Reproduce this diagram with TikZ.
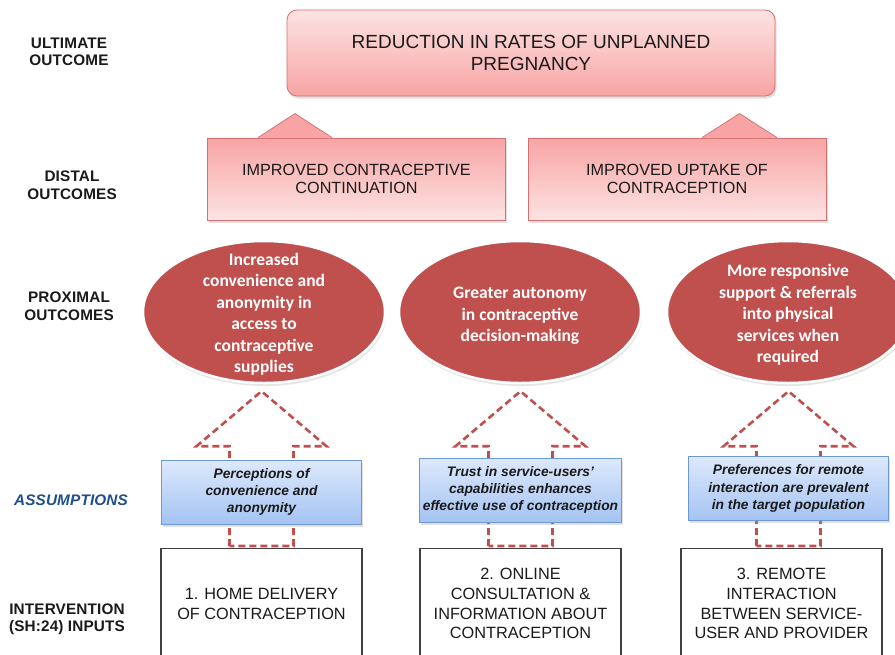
\documentclass[tikz,border=0pt]{standalone}
\usepackage{fontspec}
\setmainfont{Liberation Sans}
\newfontfamily\calfont{Carlito}
\newfontfamily\lblfont[LetterSpace=1]{Liberation Sans}
\usetikzlibrary{shapes,arrows,backgrounds,shadows,calc}
\definecolor{boxred}{HTML}{C0504D}
\definecolor{pinkdark}{HTML}{F8A4A4}
\definecolor{pinklight}{HTML}{FDE3E3}
\definecolor{pinkline}{HTML}{D56F70}
\definecolor{bluelight}{HTML}{DDE9FC}
\definecolor{bluedark}{HTML}{A4C3F2}
\definecolor{blueline}{HTML}{6D98D2}
\definecolor{navy}{HTML}{1F4E8C}
\definecolor{inkgrey}{HTML}{1A1A1A}
\tikzset{softshadow/.style={drop shadow={shadow xshift=1.5pt,shadow yshift=-2.5pt,opacity=0.3,fill=black!40}}}

\begin{document}
\begin{tikzpicture}[x=1pt,y=-1pt,
  lbl/.style={align=center,text=inkgrey,font=\lblfont\bfseries\fontsize{15.3}{17.5}\selectfont},
  ultbox/.style={draw=pinkline,line width=0.8pt,rounded corners=10pt,top color=pinklight,bottom color=pinkdark,softshadow,
    minimum width=488pt,minimum height=86pt,align=center,text=inkgrey,font=\fontsize{19}{22}\selectfont},
  distbox/.style={draw=pinkline,line width=0.8pt,top color=pinkdark,bottom color=pinklight,softshadow,
    minimum width=298pt,minimum height=82pt,align=center,text=inkgrey,font=\fontsize{16.2}{18.5}\selectfont},
  prox/.style={ellipse,fill=boxred,draw=white,line width=2.5pt,minimum width=242pt,minimum height=142pt,
    drop shadow={shadow xshift=1pt,shadow yshift=-3pt,opacity=0.25,fill=black!40}},
  proxtxt/.style={align=center,text=white,inner sep=0pt,font=\calfont\bfseries\fontsize{17.5}{21.5}\selectfont},
  assum/.style={draw=blueline,line width=0.8pt,top color=bluelight,bottom color=bluedark,softshadow,
    minimum width=200pt,minimum height=64pt,align=center,text=inkgrey,font=\bfseries\itshape\fontsize{13.8}{17.3}\selectfont},
  inbox/.style={draw=black!75,line width=1.3pt,fill=white,minimum width=201pt,minimum height=110pt,anchor=north,
    align=center,text=inkgrey,font=\fontsize{16.3}{19.7}\selectfont},
  blockarr/.style={draw=boxred,line width=2.6pt,dash pattern=on 7pt off 4pt,line join=miter}]
\useasboundingbox (0,0) rectangle (895,654);
\clip (0,0) rectangle (895,654);

% row labels
\node[lbl] (lult) at (69,52) {ULTIMATE\\OUTCOME};
\node[lbl] (ldist) at (72,185) {DISTAL\\OUTCOMES};
\node[lbl] (lprox) at (69,306) {PROXIMAL\\OUTCOMES};
\node[lbl,text=navy,font=\lblfont\bfseries\itshape\fontsize{15.3}{17.5}\selectfont] (lassum) at (71,500) {ASSUMPTIONS};
\node[lbl] (linput) at (67,619) {INTERVENTION\\(SH:24) INPUTS};

% outcomes
\node[ultbox] (ult) at (531,53) {REDUCTION IN RATES OF UNPLANNED\\PREGNANCY};
\node[distbox] (d1) at (356.5,179) {IMPROVED CONTRACEPTIVE\\CONTINUATION};
\node[distbox] (d2) at (677,179) {IMPROVED UPTAKE OF\\CONTRACEPTION};
\fill[pinkdark] ([xshift=-98.5pt,yshift=-0.6pt]d1.north) -- ++(37,-24.6) -- ++(37,24.6) -- cycle;
\draw[pinkline,line width=0.8pt] ([xshift=-98.5pt]d1.north) -- ++(37,-24) -- ++(37,24);
\fill[pinkdark] ([xshift=25pt,yshift=-0.6pt]d2.north) -- ++(37.5,-24.6) -- ++(37.5,24.6) -- cycle;
\draw[pinkline,line width=0.8pt] ([xshift=25pt]d2.north) -- ++(37.5,-24) -- ++(37.5,24);

\node[prox] (p1) at (264,312) {};
\node[prox] (p2) at (520,312) {};
\node[prox] (p3) at (788,312) {};
\node[proxtxt] (p1t) at ([yshift=-2pt]p1.center) {Increased\\convenience and\\anonymity in\\access to\\contraceptive\\supplies};
\node[proxtxt] (p2t) at ([yshift=-4pt]p2.center) {Greater autonomy\\in contraceptive\\decision-making};
\node[proxtxt] (p3t) at ([yshift=-3pt]p3.center) {More responsive\\support \& referrals\\into physical\\services when\\required};

% assumptions and inputs
\node[assum] (a1) at (261.5,492) {Perceptions of\\convenience and\\anonymity};
\node[assum] (a2) at (520.5,490) {Trust in service-users'\\capabilities enhances\\effective use of contraception};
\node[assum] (a3) at (788.5,488.5) {Preferences for remote\\interaction are prevalent\\in the target population};

\node[inbox] (i1) at (261.5,548) {1. HOME DELIVERY\\OF CONTRACEPTION};
\node[inbox] (i2) at (520.5,548) {2. ONLINE\\CONSULTATION \&\\INFORMATION ABOUT\\CONTRACEPTION};
\node[inbox] (i3) at (781.5,548) {3. REMOTE\\INTERACTION\\BETWEEN SERVICE-\\USER AND PROVIDER};

\begin{pgfonlayer}{background}
\fill[white] (0,0) rectangle (895,654);
\draw[blockarr] ($(a1.center |- i1.north)+(-32,-2)$) -- ($(a1.center |- p1.south)+(-32,62)$) -- ++(-33,0) -- ($(a1.center |- p1.south)+(0,7)$) -- ($(a1.center |- p1.south)+(65,62)$) -- ++(-33,0) -- ($(a1.center |- i1.north)+(32,-2)$) -- cycle;
\draw[blockarr] ($(a2.center |- i2.north)+(-32,-2)$) -- ($(a2.center |- p2.south)+(-32,62)$) -- ++(-33,0) -- ($(a2.center |- p2.south)+(0,7)$) -- ($(a2.center |- p2.south)+(65,62)$) -- ++(-33,0) -- ($(a2.center |- i2.north)+(32,-2)$) -- cycle;
\draw[blockarr] ($(a3.center |- i3.north)+(-32,-2)$) -- ($(a3.center |- p3.south)+(-32,62)$) -- ++(-33,0) -- ($(a3.center |- p3.south)+(0,7)$) -- ($(a3.center |- p3.south)+(65,62)$) -- ++(-33,0) -- ($(a3.center |- i3.north)+(32,-2)$) -- cycle;
\end{pgfonlayer}
\end{tikzpicture}
\end{document}
